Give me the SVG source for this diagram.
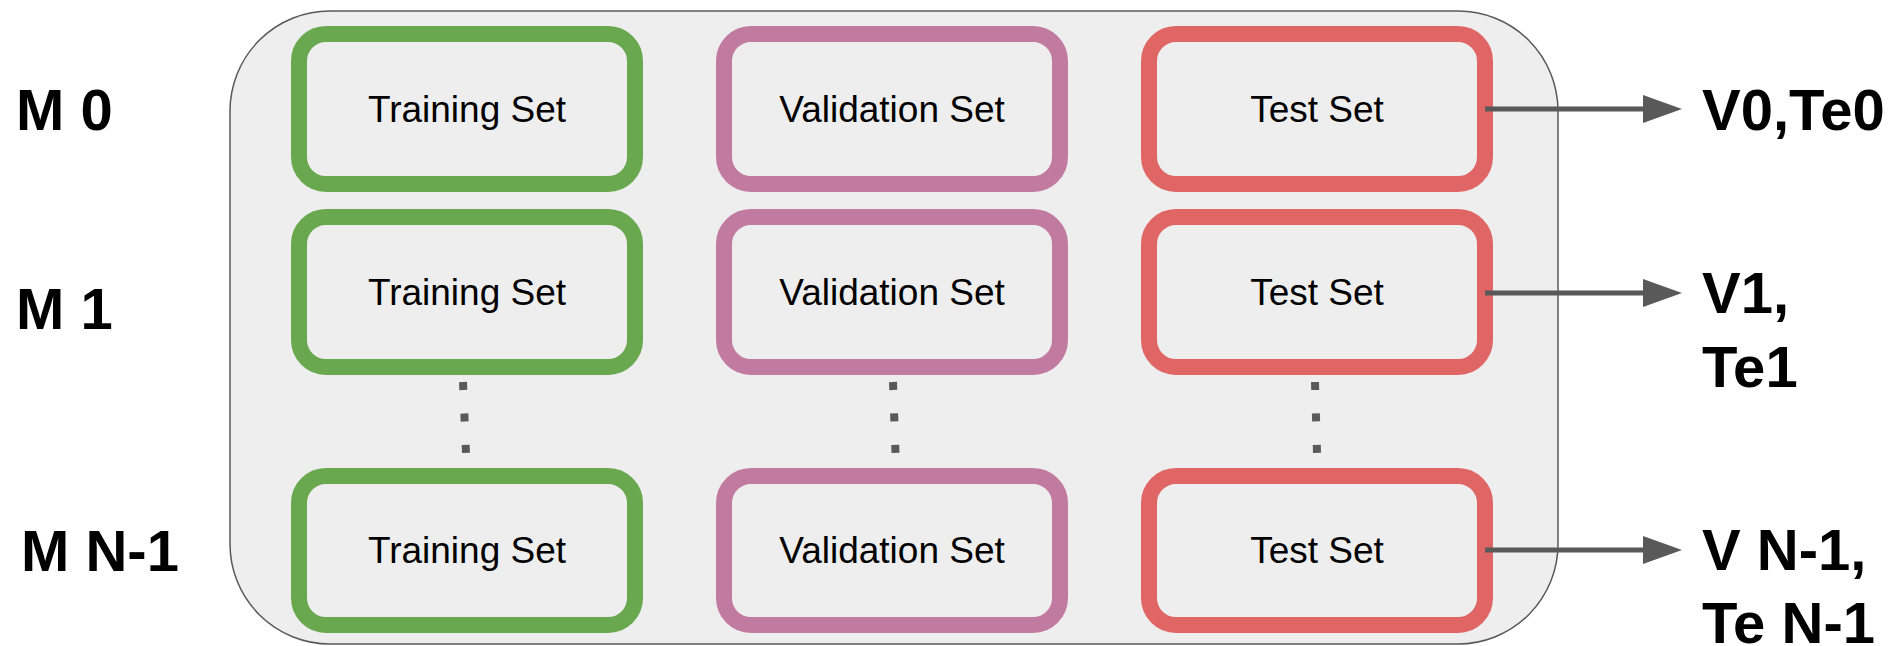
<svg xmlns="http://www.w3.org/2000/svg" width="1897" height="646" viewBox="0 0 1897 646">
<defs>
<style>
.box{fill:#eeeeee;stroke-width:16}
.train{stroke:#6aa84f}
.val{stroke:#c27ba0}
.test{stroke:#e06666}
.lbl{font-family:"Liberation Sans",Arial,sans-serif;font-size:37px;fill:#000;text-anchor:middle}
.big{font-family:"Liberation Sans",Arial,sans-serif;font-size:58px;font-weight:bold;fill:#000}
.arrow{stroke:#595959;stroke-width:5;fill:none}
.dots{stroke:#595959;stroke-width:8;stroke-dasharray:8 23.5;fill:none}
</style>
<marker id="ah" markerUnits="userSpaceOnUse" markerWidth="40" markerHeight="28" refX="2" refY="14" orient="auto">
<path d="M0,0 L39,14 L0,28 Z" fill="#595959"/>
</marker>
</defs>
<rect id="container" x="230" y="11" width="1328" height="633" rx="100" ry="100" fill="#eeeeee" stroke="#595959" stroke-width="1.5"/>
<g id="labels-left">
<text class="big" x="16" y="130">M 0</text>
<text class="big" x="16" y="329">M 1</text>
<text class="big" x="21" y="571">M N-1</text>
</g>
<g id="train0"><rect class="box train" x="299" y="34" width="336" height="150" rx="27"/><text class="lbl" x="467" y="122">Training Set</text></g>
<g id="val0"><rect class="box val" x="724" y="34" width="336" height="150" rx="27"/><text class="lbl" x="892" y="122">Validation Set</text></g>
<g id="test0"><rect class="box test" x="1149" y="34" width="336" height="150" rx="27"/><text class="lbl" x="1317" y="122">Test Set</text></g>
<g id="train1"><rect class="box train" x="299" y="217" width="336" height="150" rx="27"/><text class="lbl" x="467" y="305">Training Set</text></g>
<g id="val1"><rect class="box val" x="724" y="217" width="336" height="150" rx="27"/><text class="lbl" x="892" y="305">Validation Set</text></g>
<g id="test1"><rect class="box test" x="1149" y="217" width="336" height="150" rx="27"/><text class="lbl" x="1317" y="305">Test Set</text></g>
<g id="train2"><rect class="box train" x="299" y="476" width="336" height="149" rx="27"/><text class="lbl" x="467" y="563">Training Set</text></g>
<g id="val2"><rect class="box val" x="724" y="476" width="336" height="149" rx="27"/><text class="lbl" x="892" y="563">Validation Set</text></g>
<g id="test2"><rect class="box test" x="1149" y="476" width="336" height="149" rx="27"/><text class="lbl" x="1317" y="563">Test Set</text></g>
<g id="connectors">
<line class="dots" x1="463" y1="382" x2="466" y2="453"/>
<line class="dots" x1="893" y1="382" x2="895.5" y2="453"/>
<line class="dots" x1="1315" y1="382" x2="1317" y2="453"/>
<line class="arrow" x1="1485" y1="109" x2="1645" y2="109" marker-end="url(#ah)"/>
<line class="arrow" x1="1485" y1="293" x2="1645" y2="293" marker-end="url(#ah)"/>
<line class="arrow" x1="1485" y1="550" x2="1645" y2="550" marker-end="url(#ah)"/>
</g>
<g id="labels-right">
<text class="big" x="1702" y="130">V0,Te0</text>
<text class="big" x="1702" y="313">V1,</text>
<text class="big" x="1702" y="387">Te1</text>
<text class="big" x="1702" y="570">V N-1,</text>
<text class="big" x="1702" y="643">Te N-1</text>
</g>
</svg>
